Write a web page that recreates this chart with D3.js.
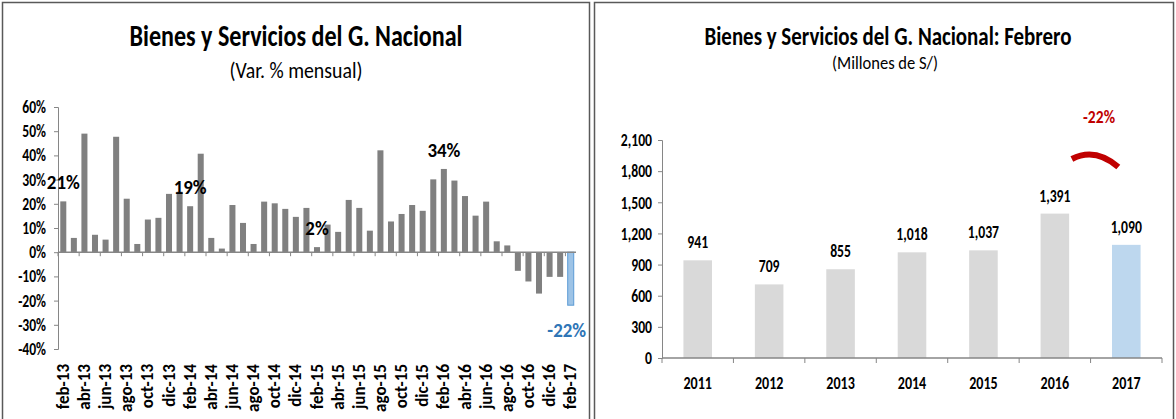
<!DOCTYPE html>
<html>
<head>
<meta charset="utf-8">
<script src="https://cdn.jsdelivr.net/npm/d3@7"></script>
<style>
  body { margin: 0; background: #fff; }
  svg text { font-family: "Carlito", "Liberation Sans Narrow", "Open Sans", sans-serif; }
</style>
</head>
<body>
<div id="chart"></div>
<script>
// Monthly categories for the left chart
var months = ["feb-13","mar-13","abr-13","may-13","jun-13","jul-13","ago-13","sep-13","oct-13","nov-13","dic-13","ene-14",
  "feb-14","mar-14","abr-14","may-14","jun-14","jul-14","ago-14","sep-14","oct-14","nov-14","dic-14","ene-15",
  "feb-15","mar-15","abr-15","may-15","jun-15","jul-15","ago-15","sep-15","oct-15","nov-15","dic-15","ene-16",
  "feb-16","mar-16","abr-16","may-16","jun-16","jul-16","ago-16","sep-16","oct-16","nov-16","dic-16","ene-17",
  "feb-17"];

// Var. % mensual
var monthlyVar = [21, 5.9, 49, 7.2, 5.2, 47.7, 22.1, 3.4, 13.5, 14.2, 24.1, 25,
  19, 40.7, 5.9, 1.5, 19.5, 12.1, 3.4, 20.9, 20.2, 17.9, 14.6, 18.3,
  2.1, 11.4, 8.4, 21.6, 18.3, 8.9, 42.1, 12.7, 15.8, 19.5, 17.1, 30.1,
  34.4, 29.6, 23.2, 15.1, 20.9, 4.5, 2.8, -7.7, -12.1, -17.1, -10.2, -10.2,
  -21.9];

// labelled months (every February)
var labelledMonths = ["feb-13", "feb-14", "feb-15", "feb-16", "feb-17"];
var pctTicks = [-40, -30, -20, -10, 0, 10, 20, 30, 40, 50, 60];

// Right chart: February of each year, millions of S/
var years = ["2011", "2012", "2013", "2014", "2015", "2016", "2017"];
var febAmounts = [941, 709, 855, 1018, 1037, 1391, 1090];
var amountTicks = [0, 300, 600, 900, 1200, 1500, 1800, 2100];
var changeLabel = "-22%";

// squeeze text horizontally, like the stretched Excel picture
function squish(sel, factor) {
  sel.each(function() {
    var len = this.getComputedTextLength();
    d3.select(this)
      .attr("textLength", len * factor)
      .attr("lengthAdjust", "spacingAndGlyphs");
  });
}

var svg = d3.select("#chart").append("svg")
  .attr("width", 1176)
  .attr("height", 419);

// panel frames
svg.append("rect").attr("x", 2.5).attr("y", 2.5).attr("width", 587).attr("height", 430)
  .attr("fill", "none").attr("stroke", "#595959").attr("stroke-width", 1.5);
svg.append("rect").attr("x", 594.5).attr("y", 2.5).attr("width", 579).attr("height", 430)
  .attr("fill", "none").attr("stroke", "#595959").attr("stroke-width", 1.5);

var axisColor = "#868686";

// ---------- Left chart ----------
var left = svg.append("g");

left.append("text")
  .attr("x", 296).attr("y", 46)
  .attr("text-anchor", "middle")
  .attr("font-size", 30).attr("font-weight", "bold")
  .attr("textLength", 333).attr("lengthAdjust", "spacingAndGlyphs")
  .text("Bienes y Servicios del G. Nacional");

left.append("text")
  .attr("x", 296).attr("y", 78)
  .attr("text-anchor", "middle")
  .attr("font-size", 22)
  .attr("textLength", 133).attr("lengthAdjust", "spacingAndGlyphs")
  .text("(Var. % mensual)");

var x1 = d3.scaleBand()
  .domain(months)
  .range([58, 576])
  .paddingInner(0.43)
  .paddingOuter(0.215);

var y1 = d3.scaleLinear()
  .domain([-40, 60])
  .range([349, 107]);

// y axis
var yAxis1 = left.append("g")
  .attr("transform", "translate(58,0)")
  .call(d3.axisLeft(y1).tickValues(pctTicks).tickFormat(d => d + "%").tickSize(4).tickSizeOuter(4));
yAxis1.selectAll("path, line").attr("stroke", axisColor);
yAxis1.selectAll("text")
  .attr("font-size", 17).attr("font-weight", "bold").attr("fill", "#000")
  .attr("x", -12)
  .call(squish, 0.8);

// bars
left.append("g").selectAll("rect")
  .data(months)
  .enter()
  .append("rect")
  .attr("x", d => x1(d))
  .attr("width", x1.bandwidth())
  .attr("y", (d, i) => y1(Math.max(0, monthlyVar[i])))
  .attr("height", (d, i) => Math.abs(y1(monthlyVar[i]) - y1(0)))
  .attr("fill", (d, i) => i === months.length - 1 ? "#9dc3e6" : "#808080")
  .attr("stroke", (d, i) => i === months.length - 1 ? "#5b9bd5" : "none")
  .attr("stroke-width", 1);

// zero line with tick marks every two months
var step1 = x1.step();
left.append("line")
  .attr("x1", 58).attr("x2", 576)
  .attr("y1", y1(0)).attr("y2", y1(0))
  .attr("stroke", axisColor).attr("stroke-width", 1.5);
left.append("g").selectAll("line")
  .data(d3.range(0, months.length + 1, 2))
  .enter()
  .append("line")
  .attr("x1", k => 58 + step1 * k).attr("x2", k => 58 + step1 * k)
  .attr("y1", y1(0)).attr("y2", y1(0) + 4)
  .attr("stroke", axisColor);

// month labels at the bottom
var xAxis1 = left.append("g")
  .attr("transform", "translate(0,364)")
  .call(d3.axisBottom(x1).tickValues(months.filter((d, i) => i % 2 === 0)).tickSize(0));
xAxis1.select(".domain").remove();
xAxis1.selectAll("text")
  .attr("font-size", 17).attr("font-weight", "bold").attr("fill", "#000")
  .attr("text-anchor", "end")
  .attr("transform", "rotate(-90)")
  .attr("x", 0).attr("y", 0).attr("dx", 0).attr("dy", "0.33em");

// data labels for February
left.append("g").selectAll("text")
  .data(labelledMonths)
  .enter()
  .append("text")
  .attr("x", d => x1(d) + x1.bandwidth() / 2)
  .attr("dx", d => monthlyVar[months.indexOf(d)] < 0 ? -4 : 0)
  .attr("y", d => {
    var v = monthlyVar[months.indexOf(d)];
    return v >= 0 ? y1(v) - 12 : y1(v) + 32;
  })
  .attr("text-anchor", "middle")
  .attr("font-size", 21).attr("font-weight", "bold")
  .attr("fill", d => monthlyVar[months.indexOf(d)] < 0 ? "#2e75b6" : "#000")
  .text(d => Math.round(monthlyVar[months.indexOf(d)]) + "%")
  .call(squish, 0.9);

// ---------- Right chart ----------
var right = svg.append("g");

right.append("text")
  .attr("x", 888).attr("y", 45)
  .attr("text-anchor", "middle")
  .attr("font-size", 26).attr("font-weight", "bold")
  .attr("textLength", 367).attr("lengthAdjust", "spacingAndGlyphs")
  .text("Bienes y Servicios del G. Nacional: Febrero");

right.append("text")
  .attr("x", 885).attr("y", 69)
  .attr("text-anchor", "middle")
  .attr("font-size", 19)
  .attr("textLength", 106).attr("lengthAdjust", "spacingAndGlyphs")
  .text("(Millones de S/)");

var x2 = d3.scaleBand()
  .domain(years)
  .range([662, 1162])
  .paddingInner(0.6)
  .paddingOuter(0.3);

var y2 = d3.scaleLinear()
  .domain([0, 2100])
  .range([358, 140]);

var yAxis2 = right.append("g")
  .attr("transform", "translate(662,0)")
  .call(d3.axisLeft(y2).tickValues(amountTicks).tickFormat(d3.format(",")).tickSize(4).tickSizeOuter(4));
yAxis2.selectAll("path, line").attr("stroke", axisColor);
yAxis2.selectAll("text")
  .attr("font-size", 18).attr("font-weight", "bold").attr("fill", "#000")
  .attr("x", -10)
  .call(squish, 0.76);

right.append("g").selectAll("rect")
  .data(years)
  .enter()
  .append("rect")
  .attr("x", d => x2(d))
  .attr("width", x2.bandwidth())
  .attr("y", (d, i) => y2(febAmounts[i]))
  .attr("height", (d, i) => y2(0) - y2(febAmounts[i]))
  .attr("fill", (d, i) => i === years.length - 1 ? "#bdd7ee" : "#d9d9d9");

// x axis with tick marks between years
var step2 = x2.step();
right.append("line")
  .attr("x1", 662).attr("x2", 1162)
  .attr("y1", y2(0)).attr("y2", y2(0))
  .attr("stroke", axisColor).attr("stroke-width", 1.5);
right.append("g").selectAll("line")
  .data(d3.range(0, years.length + 1))
  .enter()
  .append("line")
  .attr("x1", k => 662 + step2 * k).attr("x2", k => 662 + step2 * k)
  .attr("y1", y2(0)).attr("y2", y2(0) + 5)
  .attr("stroke", axisColor);

var xAxis2 = right.append("g")
  .attr("transform", "translate(0,358)")
  .call(d3.axisBottom(x2).tickSize(0).tickPadding(18));
xAxis2.select(".domain").remove();
xAxis2.selectAll("text")
  .attr("font-size", 18).attr("font-weight", "bold").attr("fill", "#000")
  .call(squish, 0.78);

// value labels
right.append("g").selectAll("text")
  .data(years)
  .enter()
  .append("text")
  .attr("x", d => x2(d) + x2.bandwidth() / 2)
  .attr("y", (d, i) => y2(febAmounts[i]) - 12)
  .attr("text-anchor", "middle")
  .attr("font-size", 18).attr("font-weight", "bold")
  .attr("fill", "#000")
  .text((d, i) => d3.format(",")(febAmounts[i]))
  .call(squish, 0.76);

// red change arc between 2016 and 2017
var xa = x2("2016") + x2.bandwidth() / 2 + 17;
var xb = x2("2017") + x2.bandwidth() / 2 - 8;
right.append("path")
  .attr("d", `M${xa},${159} Q${(xa + xb) / 2},${147} ${xb},${167}`)
  .attr("fill", "none")
  .attr("stroke", "#c00000")
  .attr("stroke-width", 6);

right.append("text")
  .attr("x", (xa + xb) / 2 + 4).attr("y", 123)
  .attr("text-anchor", "middle")
  .attr("font-size", 19).attr("font-weight", "bold")
  .attr("fill", "#c00000")
  .text(changeLabel)
  .call(squish, 0.82);
</script>
</body>
</html>
